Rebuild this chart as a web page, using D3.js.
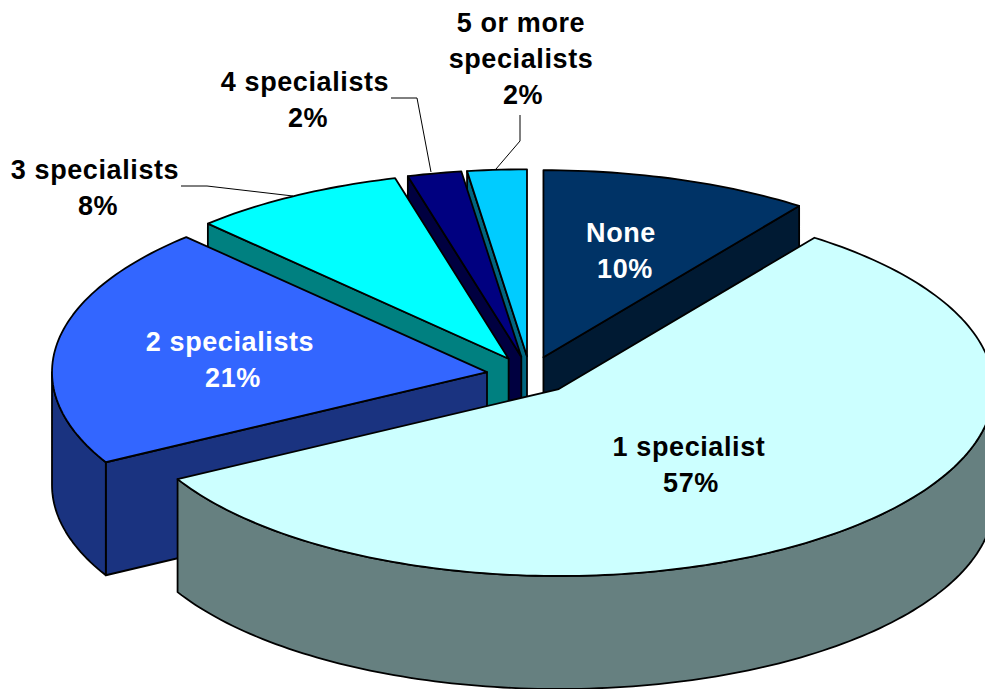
<!DOCTYPE html>
<html><head><meta charset="utf-8">
<style>html,body{margin:0;padding:0;background:#fff}svg{display:block}</style>
<script src="https://cdn.jsdelivr.net/npm/d3@7/dist/d3.min.js"></script>
</head><body><svg id="c" width="985" height="689"></svg>
<script>
const categories=["None","1 specialist","2 specialists","3 specialists","4 specialists","5 or more specialists"];
const values=[10,57,20.85,7.95,2,2.2];
const percentLabels=["10%","57%","21%","8%","2%","2%"];
const topColors=["#003366","#CCFFFF","#3366FF","#00FFFF","#000080","#00CCFF"];
const sideColors=["#001A33","#668080","#1A3380","#008080","#000040","#006680"];
const labelLines=[["None"],["1 specialist"],["2 specialists"],["3 specialists"],["4 specialists"],["5 or more","specialists"]];
const labelColors=["#fff","#000","#fff","#000","#000","#000"];

const W=985,H=689,cx=530,cy=375,rx=435,ry=187,depth=113,explode=0.1;
const labelPos=[[621,242],[689,456],[230,351],[95,179],[305,91],[521,32]];
const percentShift=[4,2,3,3,3,2];
const leaders=[null,null,null,[[181,186],[207,186],[293,196]],[[391,98],[417,98],[431,172]],[[520,115],[520,141],[496,169]]];
const lineStep=36;

const svg=d3.select("#c");
const X=d3.scaleLinear().domain([-1,1]).range([cx-rx,cx+rx]);
const Y=d3.scaleLinear().domain([-1,1]).range([cy-ry,cy+ry]);
const line=d3.line();
const arcs=d3.pie().sort(null).value(d=>d)(values);

function pt(angle,r,m){return [X(r*Math.sin(angle)+m[0]),Y(-r*Math.cos(angle)+m[1])];}
function sampled(a,b){const n=Math.max(2,Math.ceil(Math.abs(b-a)/0.02));return d3.range(n+1).map(i=>a+(b-a)*i/n);}
function drop(p){return [p[0],p[1]+depth];}

const slices=arcs.map((a,i)=>{const mid=(a.startAngle+a.endAngle)/2;
  return {a,i,off:[explode*Math.sin(mid),-explode*Math.cos(mid)]};});
const drawOrder=[5,4,0,3,2,1];

drawOrder.forEach(k=>{
  const s=slices[k],a=s.a,m=s.off,g=svg.append("g");
  const apex=pt(0,0,m),P0=pt(a.startAngle,1,m),P1=pt(a.endAngle,1,m);
  const wall=(pts)=>g.append("path").attr("d",line(pts)+"Z").attr("fill",sideColors[k])
    .attr("stroke","#000").attr("stroke-width",1.8).attr("stroke-linejoin","round");
  // a cut face shows only when it turns toward the viewer
  if(a.startAngle>Math.PI) wall([apex,P0,drop(P0),drop(apex)]);
  if(a.endAngle<Math.PI) wall([apex,P1,drop(P1),drop(apex)]);
  const lo=Math.max(a.startAngle,Math.PI/2),hi=Math.min(a.endAngle,Math.PI*1.5);
  if(hi>lo){
    const outer=sampled(lo,hi).map(t=>pt(t,1,m));
    wall(outer.concat(outer.slice().reverse().map(drop)));
  }
  const rim=sampled(a.startAngle,a.endAngle).map(t=>pt(t,1,m));
  g.append("path").attr("d",line([apex].concat(rim))+"Z").attr("fill",topColors[k])
    .attr("stroke","#000").attr("stroke-width",1.8).attr("stroke-linejoin","round");
});

leaders.forEach(l=>{ if(l) svg.append("path").attr("d",line(l)).attr("fill","none").attr("stroke","#000").attr("stroke-width",1);});

categories.forEach((c,i)=>{
  const t=svg.append("text").attr("text-anchor","middle")
    .attr("font-family","'Liberation Sans',Arial,sans-serif").attr("font-weight","bold")
    .attr("font-size",27).attr("letter-spacing",0.6).attr("fill",labelColors[i]);
  labelLines[i].forEach((s,j)=>{
    t.append("tspan").attr("x",labelPos[i][0]).attr("y",labelPos[i][1]+j*lineStep).text(s);
  });
  t.append("tspan").attr("x",labelPos[i][0]+percentShift[i])
    .attr("y",labelPos[i][1]+labelLines[i].length*lineStep).text(percentLabels[i]);
});
</script></body></html>
